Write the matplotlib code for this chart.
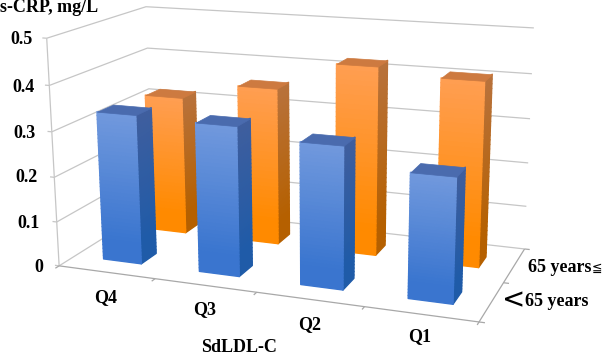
import numpy as np
import matplotlib
matplotlib.use('Agg')
import matplotlib.pyplot as plt
from matplotlib.colors import to_rgb
from mpl_toolkits.mplot3d.art3d import Poly3DCollection

quartiles = ['Q4', 'Q3', 'Q2', 'Q1']
under_65 = [0.333, 0.328, 0.307, 0.265]
over_65 = [0.322, 0.36, 0.425, 0.41]
crp_ticks = [0, 0.1, 0.2, 0.3, 0.4, 0.5]
crp_labels = ['0', '0.1', '0.2', '0.3', '0.4', '0.5']

W, H = 605, 357
GRID = '#c6c6c6'
EDGE = '#a8a8a8'
BAR_X = (0.30, 0.70)
BAR_Y = (0.32, 0.64)

BLUE = dict(front=('#7199dd', '#3a75cf'), side=('#3f5e9e', '#1f5ba8'), top='#4a6bae')
ORANGE = dict(front=('#ff9e52', '#ff8a00'), side=('#b8723c', '#b56000'), top='#cd7a40')

plt.rcParams['font.family'] = ['Liberation Serif', 'DejaVu Sans']
plt.rcParams['font.weight'] = 'bold'
plt.rcParams['font.size'] = 13

fig = plt.figure(figsize=(W / 100, H / 100), dpi=100)
side = 515.76
cx, cy = 287.94, 154.65
ax = fig.add_axes([(cx - side / 2) / W, 1 - (cy + side / 2) / H, side / W, side / H],
                  projection='3d', computed_zorder=False)
ax.set_xlim(0, 4)
ax.set_ylim(0, 2)
ax.set_zlim(0, 0.5)
ax.view_init(14.87, -69.25, 0.31)
ax.set_proj_type('persp', focal_length=0.4697)
ax.set_box_aspect((1, 0.4873, 0.5398))
ax.set_axis_off()

order = [0]


def next_z():
    order[0] += 1
    return order[0]


def line3(xs, ys, zs, color=GRID, lw=0.9):
    ax.plot(xs, ys, zs, color=color, lw=lw, zorder=next_z(), solid_capstyle='butt')


def gradient_face(p0, p1, z0, z1, colors, n=40):
    # vertical face split into thin strips, lighter at the top
    c_top, c_bot = np.array(to_rgb(colors[0])), np.array(to_rgb(colors[1]))
    edges = np.linspace(z1, z0, n + 1)
    polys, cols = [], []
    for a, b in zip(edges[:-1], edges[1:]):
        polys.append([(p0[0], p0[1], a), (p1[0], p1[1], a), (p1[0], p1[1], b), (p0[0], p0[1], b)])
        t = min(1 - ((a + b) / 2 - z0) / (z1 - z0), 0.85) / 0.85
        cols.append(c_top + (c_bot - c_top) * t)
    ax.add_collection3d(Poly3DCollection(polys, facecolors=cols, edgecolors=cols, linewidths=1.0,
                                         zorder=next_z()))


def bar(i, j, value, style):
    x0, x1 = i + BAR_X[0], i + BAR_X[1]
    y0, y1 = j + BAR_Y[0], j + BAR_Y[1]
    gradient_face((x1, y0), (x1, y1), 0, value, style['side'])
    gradient_face((x0, y0), (x1, y0), 0, value, style['front'])
    lid = [(x0, y0, value), (x1, y0, value), (x1, y1, value), (x0, y1, value)]
    ax.add_collection3d(Poly3DCollection([lid], facecolors=style['top'], edgecolors=style['top'],
                                         linewidths=0.5, zorder=next_z()))


# walls and floor
for z in crp_ticks[1:]:
    line3([0, 0, 4], [0, 2, 2], [z, z, z])
    line3([-0.045, 0], [0, 0], [z, z])
line3([0, 0, 4], [0, 2, 2], [0, 0, 0])
line3([0, 0], [0, 0], [0, 0.5])
line3([-0.045, 0], [0, 0], [0, 0])
line3([0, 4, 4], [0, 0, 2], [0, 0, 0], color=EDGE)
for i in range(1, 5):
    line3([i, i], [0, -0.07], [0, 0], color=EDGE)
for j in range(0, 3):
    line3([4, 4.05], [j, j], [0, 0], color=EDGE)
line3([0, 0], [0, -0.07], [0, 0], color=EDGE)

# back row first so the front row sits over it
for i, v in enumerate(over_65):
    bar(i, 1, v, ORANGE)
for i, v in enumerate(under_65):
    bar(i, 0, v, BLUE)


def label(px, py, s, ha='center', **kw):
    fig.text(px / W, 1 - py / H, s, ha=ha, va='center', **kw)


label(98, 8, 's-CRP, mg/L', ha='right')
for s, (px, py) in zip(crp_labels, [(43, 268), (40, 224), (38, 178), (36, 133), (35, 88), (33, 40)]):
    label(px, py, s, ha='right')
for s, (px, py) in zip(quartiles, [(106, 298), (205, 310), (310, 325), (420, 337)]):
    label(px, py, s)
label(239, 348, 'SdLDL-C')
label(528, 267, '65 years', ha='left')
label(592, 268, '≦', ha='left', fontsize=9, fontweight='normal', family='DejaVu Sans')
label(525, 302, '65 years', ha='left')
label(514, 300, '<', fontsize=20, fontweight='normal', family='DejaVu Sans')

fig.savefig('out.png', dpi=100)
